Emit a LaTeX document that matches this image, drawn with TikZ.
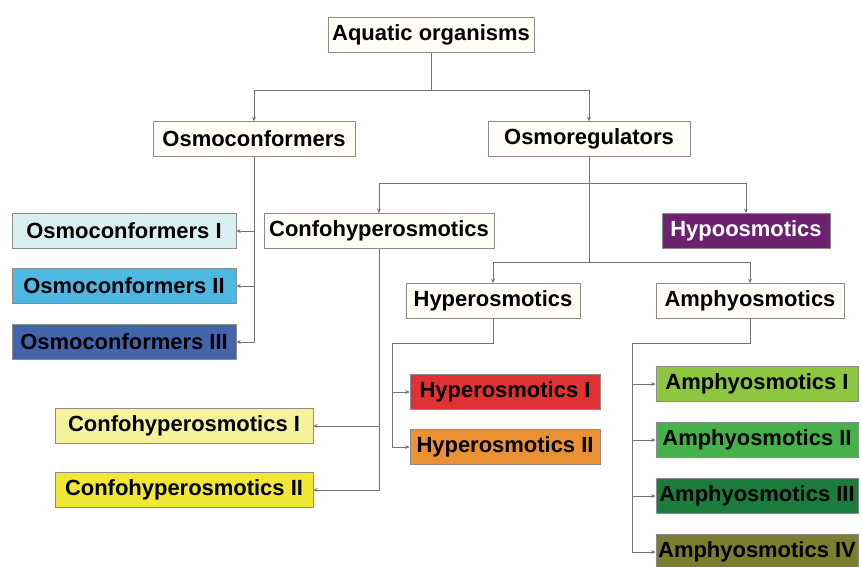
\documentclass[tikz,border=0pt]{standalone}
\usepackage{fontspec}
\setmainfont{Liberation Sans}
\usetikzlibrary{arrows.meta}

\definecolor{ivory}{HTML}{FFFDF6}
\definecolor{ocone}{HTML}{D8EEF0}
\definecolor{octwo}{HTML}{4DB9E2}
\definecolor{octhree}{HTML}{4565AB}
\definecolor{chone}{HTML}{F6F29C}
\definecolor{chtwo}{HTML}{F0E834}
\definecolor{hypo}{HTML}{6C2171}
\definecolor{hyone}{HTML}{E03234}
\definecolor{hytwo}{HTML}{EA9233}
\definecolor{amone}{HTML}{8DC63F}
\definecolor{amtwo}{HTML}{45B349}
\definecolor{amthree}{HTML}{1B7C3C}
\definecolor{amfour}{HTML}{7C7D2E}

\begin{document}
\begin{tikzpicture}[x=0.02cm, y=-0.02cm,
      box/.style={draw=black!45, fill=ivory, minimum height=0.7cm, inner sep=1pt, font=\bfseries\fontsize{12.5}{14}\selectfont},
      arr/.style={-{Stealth[length=2.5pt, width=2.2pt]}, draw=black!55, line width=0.5pt}
    ]
      \useasboundingbox (0,0) rectangle (862,566);
      % top levels
      \node[box, minimum width=4.12cm] (aquatic)  at (431,35)  {Aquatic organisms};
      \node[box, minimum width=4.04cm] (osmoconf) at (254,139) {Osmoconformers};
      \node[box, minimum width=4.04cm] (osmoreg)  at (589,139) {Osmoregulators};
      \node[box, minimum width=4.6cm]  (confo)    at (379,231) {Confohyperosmotics};
      \node[box, minimum width=3.36cm, fill=hypo, text=white] (hypo) at (746,231) {Hypoosmotics};
      \node[box, minimum width=3.48cm] (hyper)    at (493,301) {Hyperosmotics};
      \node[box, minimum width=3.76cm] (amphy)    at (750,301) {Amphyosmotics};
      % osmoconformer groups
      \node[box, minimum width=4.48cm, fill=ocone]   (oc1) at (124,231) {Osmoconformers I};
      \node[box, minimum width=4.48cm, fill=octwo]   (oc2) at (124,286) {Osmoconformers II};
      \node[box, minimum width=4.48cm, fill=octhree] (oc3) at (124,342) {Osmoconformers III};
      % confohyperosmotic groups
      \node[box, minimum width=5.16cm, fill=chone] (ch1) at (184,426) {Confohyperosmotics I};
      \node[box, minimum width=5.16cm, fill=chtwo] (ch2) at (184,490) {Confohyperosmotics II};
      % hyperosmotic groups
      \node[box, minimum width=3.8cm, fill=hyone] (hy1) at (505,392) {Hyperosmotics I};
      \node[box, minimum width=3.8cm, fill=hytwo] (hy2) at (505,447) {Hyperosmotics II};
      % amphyosmotic groups
      \node[box, minimum width=4.04cm, fill=amone]   (am1) at (757,384) {Amphyosmotics I};
      \node[box, minimum width=4.04cm, fill=amtwo]   (am2) at (757,440) {Amphyosmotics II};
      \node[box, minimum width=4.04cm, fill=amthree] (am3) at (757,496) {Amphyosmotics III};
      \node[box, minimum width=4.04cm, fill=amfour]  (am4) at (757,552) {Amphyosmotics IV};
      \coordinate (hyjoint) at (392,343);
      \coordinate (amjoint) at (632,343);
      % connectors
      \draw[arr] (aquatic.south) -- ++(0,38) -| (osmoconf.north);
      \draw[arr] (aquatic.south) -- ++(0,38) -| (osmoreg.north);
      \draw[arr] (osmoconf.south) |- (oc1.east);
      \draw[arr] (osmoconf.south) |- (oc2.east);
      \draw[arr] (osmoconf.south) |- (oc3.east);
      \draw[arr] (osmoreg.south) -- ++(0,27) -| (confo.north);
      \draw[arr] (osmoreg.south) -- ++(0,27) -| (hypo.north);
      \draw[arr] (osmoreg.south) -- ++(0,106) -| (hyper.north);
      \draw[arr] (osmoreg.south) -- ++(0,106) -| (amphy.north);
      \draw[arr] (confo.south) |- (ch1.east);
      \draw[arr] (confo.south) |- (ch2.east);
      \draw[arr] (hyper.south) |- (hyjoint) |- (hy1.west);
      \draw[arr] (hyper.south) |- (hyjoint) |- (hy2.west);
      \draw[arr] (amphy.south) |- (amjoint) |- (am1.west);
      \draw[arr] (amphy.south) |- (amjoint) |- (am2.west);
      \draw[arr] (amphy.south) |- (amjoint) |- (am3.west);
      \draw[arr] (amphy.south) |- (amjoint) |- (am4.west);
    \end{tikzpicture}
\end{document}
